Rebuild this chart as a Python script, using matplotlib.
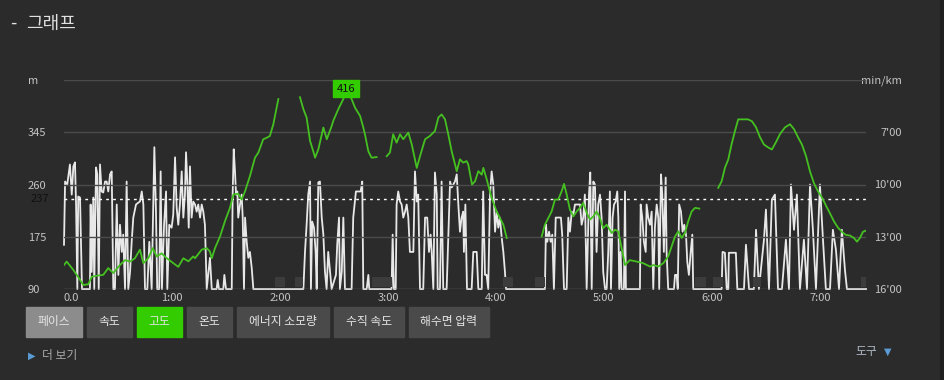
import matplotlib
matplotlib.use('Agg')
import matplotlib.pyplot as plt
import matplotlib.transforms as mtransforms
from matplotlib.patches import Rectangle

plt.rcParams['font.family'] = ['Noto Sans CJK KR', 'DejaVu Sans']

# elevation (minutes from start, metres) - one list per recorded stretch
elev_seg1 = [(0, 129), (1.5, 134.6), (5.2, 121), (8.9, 105), (10.7, 96.5), (13.5, 97.7), (15.4, 110),
             (19.1, 112), (21.8, 113), (24.6, 124), (27.4, 116), (31.1, 129), (33.9, 137), (36.7, 134.6),
             (39.4, 140), (42.2, 154), (44.1, 132), (46.8, 140), (49.3, 156.5), (51.5, 143), (54.3, 148),
             (57.1, 140), (60.7, 132), (63.5, 126), (66.3, 140), (69.1, 135), (71.8, 143), (72.8, 140),
             (76.5, 154), (79.3, 156.5), (81.1, 151), (82.1, 140), (83.9, 156.5), (86.7, 175.5), (89.4, 200),
             (92.2, 222), (94.1, 243.7), (96.8, 245), (98.7, 235.5), (100.6, 249), (103.3, 273.6),
             (106.1, 303.6), (108.0, 312), (110.7, 333.6), (112.6, 336), (114.4, 339), (116.3, 358), (119.1, 399)]
elev_seg2 = [(131.1, 402), (133.0, 382.6), (134.8, 369), (136.7, 331), (138.5, 314), (139.5, 303.6),
             (141.3, 317), (144.1, 352.7), (146.0, 333.6), (148.7, 355), (149.6, 363.5), (152.4, 382.6),
             (155.2, 399), (156.7, 416), (159.8, 399), (161.7, 385), (164.5, 371.6), (166.3, 352.7),
             (167.2, 341.7), (169.1, 314), (170.9, 303.6), (173.7, 304.6)]
elev_seg3 = [(179.3, 306), (181.1, 312), (182.9, 341.7), (184.8, 328), (186.7, 341.7), (188.5, 333.6),
             (191.3, 344.5), (193.2, 325.4), (196.0, 287), (197.8, 306), (200.6, 333.6), (203.3, 339),
             (206.1, 347), (208.0, 369), (209.8, 374), (211.7, 366), (213.5, 341.7), (215.4, 314),
             (218.2, 281.7), (220.0, 301), (221.8, 295.6), (223.7, 298), (224.6, 292.7), (226.7, 260),
             (228.4, 265.4), (230.2, 281.7), (232.1, 276), (233.0, 287), (234.9, 268), (237.6, 238),
             (240.4, 216), (242.2, 205.6), (244.1, 194.6), (246.0, 173)]
elev_seg4 = [(265.4, 175.5), (267.2, 194.6), (269.1, 205.6), (270.9, 216), (272.8, 235.5), (274.6, 235.5),
             (276.5, 249), (277.8, 261), (279.3, 243.7), (281.1, 219), (283.0, 208), (284.8, 216),
             (286.7, 222), (288.5, 230), (290.4, 214), (292.2, 203), (294.1, 208), (295.9, 216),
             (297.8, 205.6), (299.6, 189), (301.5, 194.6), (304.3, 181), (306.1, 186.5), (308.0, 183.7),
             (309.8, 156.5), (311.7, 129), (314.4, 137), (318.2, 134.6), (321.8, 132), (325.6, 126.5),
             (327.4, 129), (330.2, 126.5), (333.0, 132), (335.7, 143), (337.6, 159), (339.5, 175.5),
             (341.3, 183.7), (343.2, 173), (345.0, 181), (346.8, 200), (348.7, 216), (350.6, 222), (353.0, 220.8)]
elev_seg5 = [(363.5, 254.6), (365.4, 265.4), (367.2, 287), (369.1, 301), (370.9, 325.4), (372.8, 347),
             (374.6, 366), (376.7, 366), (380.0, 366), (382.2, 363), (384.5, 353), (386.7, 337),
             (388.9, 325), (391.1, 320.5), (393.3, 317), (395.6, 329), (397.8, 342), (400.6, 353),
             (403.4, 358), (405.6, 350), (407.8, 337), (410.0, 325), (412.3, 306), (414.5, 281),
             (416.7, 262), (418.9, 249), (421.1, 239), (423.3, 226), (425.6, 213), (427.8, 200),
             (430.0, 190), (432.2, 183), (434.4, 178), (436.7, 177), (438.9, 173), (440.6, 167),
             (442.2, 173), (443.9, 183), (445.6, 185)]

# pace (minutes from start, min/km); 16 = slower than the axis floor
pace_pts = [
    (0.0, 13.46), (0.6, 9.83), (1.8, 10.0), (3.3, 8.85), (4.3, 10.58), (5.2, 8.96), (6.1, 8.73), (6.7, 11.15),
    (7.4, 16), (7.9, 10.69), (8.9, 10.75), (9.4, 13.06), (10.0, 16), (14.4, 16), (14.8, 11.15), (15.4, 15.02),
    (16.3, 10.75), (16.8, 16), (17.8, 9.02), (18.5, 9.42), (19.3, 16), (20.0, 8.85), (20.9, 10.4), (21.8, 10.46),
    (22.8, 9.83), (23.7, 9.83), (24.6, 10.4), (25.6, 9.42), (26.5, 9.25), (27.4, 16), (28.3, 16), (29.3, 11.15),
    (30.2, 15.19), (31.1, 12.31), (32.1, 13.87), (32.9, 12.88), (33.9, 16), (34.8, 9.83), (35.7, 16),
    (36.7, 15.02), (37.6, 13.29), (38.5, 11.9), (40.0, 11.15), (41.3, 11.04), (42.2, 10.98), (43.2, 10.4),
    (44.1, 11.15), (45.0, 16), (46.3, 16), (47.4, 13.29), (48.7, 16), (50.2, 7.86), (51.1, 11.56), (51.8, 16),
    (52.9, 16), (53.7, 9.25), (54.4, 16), (55.6, 12.31), (56.7, 10.4), (57.4, 16), (58.5, 12.31), (59.8, 12.48),
    (60.7, 11.73), (61.7, 8.44), (62.6, 11.33), (63.5, 12.31), (64.4, 11.15), (65.4, 9.25), (66.3, 11.9),
    (67.2, 10.58), (67.8, 8.15), (68.5, 9.83), (69.3, 12.48), (70.0, 8.96), (70.9, 11.9), (71.8, 10.98),
    (72.8, 11.15), (73.7, 11.56), (74.6, 11.15), (75.6, 11.9), (76.5, 11.15), (77.4, 11.56), (78.3, 12.31),
    (79.3, 16), (81.1, 14.21), (82.1, 16), (84.8, 16), (85.4, 15.48), (86.1, 16), (88.5, 16), (89.1, 15.19),
    (90.0, 16), (93.2, 16), (93.7, 10.58), (94.3, 7.98), (95.0, 9.25), (95.6, 10.58), (96.3, 10.4), (96.8, 11.9),
    (97.8, 11.15), (98.7, 10.58), (99.3, 11.9), (100.0, 16), (100.6, 11.9), (101.5, 13.29), (102.4, 14.21),
    (103.3, 13.87), (104.3, 14.79), (105.2, 16),
    (133.0, 16), (133.9, 13.87), (134.8, 12.31), (135.7, 10.58), (136.7, 9.83), (137.2, 16), (137.9, 12.13),
    (138.9, 12.48), (139.8, 13.87), (140.4, 16), (141.3, 9.88), (142.2, 9.83), (143.2, 11.9), (144.1, 12.88),
    (145.0, 15.02), (145.9, 16), (146.8, 13.87), (147.8, 15.02), (148.7, 16), (151.1, 15.19), (151.8, 13.46),
    (152.8, 11.9), (153.3, 16), (154.3, 15.02), (155.2, 11.9), (156.1, 16), (159.8, 16), (160.7, 11.9),
    (162.2, 10.4), (163.5, 10.4), (164.8, 10.4), (165.7, 9.83), (166.3, 16), (168.2, 16), (169.1, 15.19),
    (169.6, 16),
    (182.0, 16), (182.6, 12.88), (183.3, 16), (184.3, 16), (184.8, 11.15), (185.7, 10.4), (186.7, 10.98),
    (187.6, 11.15), (188.5, 11.9), (189.5, 11.56), (190.4, 11.15), (191.3, 11.9), (192.2, 13.87), (194.1, 13.87),
    (195.0, 9.25), (196.0, 10.98), (196.8, 10.58), (197.8, 16), (199.6, 16), (200.6, 11.9), (201.8, 11.9),
    (202.8, 13.87), (203.7, 12.88), (204.3, 13.87), (205.2, 16), (206.1, 9.31), (207.1, 10.58), (207.6, 16),
    (208.9, 16), (209.8, 9.83), (210.7, 16), (212.6, 16), (214.5, 9.83), (215.4, 10.17), (216.3, 10.0),
    (217.2, 9.83), (218.2, 9.42), (219.1, 11.15), (220.0, 12.71), (220.9, 11.9), (221.8, 11.56), (222.2, 13.87),
    (223.0, 11.15), (223.9, 16), (226.5, 16), (227.4, 13.87), (229.3, 13.87), (230.2, 16), (232.1, 16),
    (232.9, 10.4), (233.9, 15.19), (234.8, 15.19), (235.7, 16), (236.7, 10.58), (237.6, 9.25), (238.5, 10.0),
    (239.5, 12.71), (240.4, 11.56), (241.3, 12.48), (242.2, 11.9), (243.2, 13.06), (244.1, 13.87),
    (245.0, 15.02), (245.6, 16),
    (267.2, 16), (267.8, 12.31), (268.5, 13.29), (269.5, 12.71), (270.4, 13.29), (271.3, 12.88), (272.2, 16),
    (273.2, 11.9), (274.6, 11.9), (276.1, 11.9), (276.8, 12.88), (277.8, 16), (279.3, 16), (280.2, 11.9),
    (281.1, 12.71), (282.1, 11.56), (283.0, 11.73), (283.9, 11.15), (286.7, 11.15), (287.6, 12.31),
    (288.5, 11.9), (289.4, 10.58), (290.4, 16), (291.7, 10.58), (292.4, 9.31), (293.2, 16), (294.1, 9.83),
    (295.0, 10.0), (295.9, 13.87), (296.8, 11.15), (297.8, 10.58), (298.7, 11.9), (299.6, 15.02), (300.6, 16),
    (301.5, 16), (302.4, 13.87), (303.3, 10.4), (303.9, 16), (304.8, 11.9), (305.6, 11.15), (306.5, 10.98),
    (307.4, 10.4), (308.0, 11.9), (308.5, 16), (309.3, 13.87), (309.8, 16), (311.1, 16), (311.7, 10.4),
    (312.2, 16),
    (320.0, 16), (320.4, 11.15), (321.3, 11.9), (322.2, 13.29), (323.2, 13.87), (323.7, 11.15), (324.6, 11.9),
    (325.6, 12.31), (326.5, 11.56), (327.4, 16), (328.3, 12.48), (329.3, 11.15), (330.2, 11.9), (330.7, 16),
    (331.7, 9.42), (332.4, 10.58), (333.3, 13.87), (334.3, 9.6), (334.8, 13.87), (335.7, 16), (338.9, 16),
    (339.5, 15.19), (340.4, 15.19), (341.0, 16), (341.8, 11.15), (342.8, 11.56), (343.7, 12.71), (344.6, 12.31),
    (345.6, 12.88), (346.3, 14.44), (347.2, 15.19), (348.2, 13.87), (349.1, 12.88), (349.6, 16),
    (365.4, 16), (365.9, 13.87), (367.2, 13.92), (368.2, 16), (369.1, 16), (369.4, 13.92), (373.3, 13.92),
    (374.1, 16), (377.8, 16), (378.9, 13.46), (380.6, 16), (383.3, 16), (384.5, 12.6), (386.1, 16),
    (388.9, 13.17), (390.0, 11.44), (391.7, 16), (393.3, 10.86), (395.0, 10.58), (396.7, 16), (398.9, 16),
    (401.1, 13.17), (402.8, 16), (403.9, 10.0), (405.6, 12.6), (407.2, 10.58), (408.9, 16), (411.1, 13.17),
    (412.8, 16), (414.5, 10.0), (416.1, 12.6), (417.8, 16), (420.0, 10.0), (421.7, 13.17), (423.3, 16),
    (425.6, 16), (427.2, 12.6), (428.9, 13.75), (430.6, 16), (432.2, 12.6), (433.9, 14.9), (435.0, 16),
    (445.6, 16)]

# pauses (start, end) in minutes
pauses = [(117.2, 122.8), (128.3, 132.9), (170.9, 182.1), (244.1, 249.6), (261.7, 267.2),
          (350.6, 356.7), (360.7, 366.3), (382.8, 387.2), (442.8, 446.0)]

total_minutes = 445.6
ref_elev = 237
peak = (156.7, 416)
elev_ticks = [90, 175, 260, 345, 430]
elev_labels = ['90', '175', '260', '345', 'm']
pace_ticks = [4, 7, 10, 13, 16]
pace_labels = ['min/km', "7'00", "10'00", "13'00", "16'00"]
time_ticks = [0, 60, 120, 180, 240, 300, 360, 420]
time_labels = ['0.0', '1:00', '2:00', '3:00', '4:00', '5:00', '6:00', '7:00']

buttons = ['페이스', '속도', '고도', '온도', '에너지 소모량', '수직 속도', '해수면 압력']
button_widths = [56, 45, 45, 45, 92, 70, 80]

BG = '#2b2b2b'
GREEN = '#44c020'
LABEL = '#c4c4c4'

nan = float('nan')
elev_t, elev_m = [], []
for seg in [elev_seg1, elev_seg2, elev_seg3, elev_seg4, elev_seg5]:
    elev_t += [p[0] for p in seg] + [nan]
    elev_m += [p[1] for p in seg] + [nan]
pace_t = [p[0] for p in pace_pts]
pace_v = [p[1] for p in pace_pts]

fig = plt.figure(figsize=(9.45, 3.8), dpi=100, facecolor=BG)

# pace axis (white line), elevation twin (green line)
ax = fig.add_axes([64 / 945, 91 / 380, 802 / 945, 209 / 380])
ax2 = ax.twinx()
ax.set_facecolor('none')
ax.set_xlim(0, total_minutes)
ax.set_ylim(16, 4)
ax2.set_ylim(90, 430)
for s in list(ax.spines.values()) + list(ax2.spines.values()):
    s.set_visible(False)

ax.plot(pace_t, pace_v, color='#e8e8e8', lw=1.3, clip_on=False, zorder=3)

for v in elev_ticks[1:]:
    ax2.axhline(v, color='#4b4b4b', lw=1, zorder=0)
ax2.axhline(90, color='#6a6a6a', lw=1, zorder=0)
ax2.axhline(ref_elev, color='white', lw=1, ls=(0, (2, 3)), zorder=2)
ax2.broken_barh([(a, b - a) for a, b in pauses], (93, 16), facecolor='#3c3c3c', zorder=1)
ax2.plot(elev_t, elev_m, color=GREEN, lw=1.3, zorder=4)
ax2.text(peak[0], peak[1], str(peak[1]), ha='center', va='center', fontsize=8, color='#111111', zorder=6,
         bbox=dict(boxstyle='square,pad=0.3', fc='#33cc00', ec='#33cc00'))
trans = mtransforms.blended_transform_factory(fig.transFigure, ax2.transData)
ax2.text(31 / 945, ref_elev, str(ref_elev), transform=trans, ha='left', va='center', fontsize=8, color='#111111')

# tick sides: pace on the right, elevation on the left
ax.yaxis.tick_right()
ax.yaxis.set_label_position('right')
ax2.yaxis.tick_left()
ax2.yaxis.set_label_position('left')

ax.set_yticks(pace_ticks)
ax.set_yticklabels(pace_labels)
ax.tick_params(axis='y', length=0, pad=26, labelsize=8, labelcolor=LABEL)
for lbl in ax.get_yticklabels():
    lbl.set_ha('right')

ax2.set_yticks(elev_ticks)
ax2.set_yticklabels(elev_labels)
ax2.tick_params(axis='y', length=0, pad=26, labelsize=8, labelcolor=LABEL)
for lbl in ax2.get_yticklabels():
    lbl.set_ha('left')

ax.set_xticks(time_ticks)
ax.set_xticklabels(time_labels)
ax.tick_params(axis='x', length=0, pad=3, labelsize=8, labelcolor=LABEL)
ax.get_xticklabels()[0].set_ha('left')

# page furniture in pixel coordinates
ov = fig.add_axes([0, 0, 1, 1])
ov.set_xlim(0, 945)
ov.set_ylim(380, 0)
ov.axis('off')
ov.patch.set_visible(False)
ov.add_patch(Rectangle((940, 0), 5, 380, color='#1f1f1f'))
ov.text(10, 24, '-', fontsize=13, color='#e0e0e0', va='center', ha='left')
ov.text(26, 24, '그래프', fontsize=13, color='#e0e0e0', va='center', ha='left')

x = 26
for i, (name, w) in enumerate(zip(buttons, button_widths)):
    fc = '#4a4a4a'
    if i == 0:
        fc = '#8c8c8c'
    if name == '고도':
        fc = '#33cc00'
    ov.add_patch(Rectangle((x, 307), w, 30, color=fc))
    ov.text(x + w / 2, 322, name, fontsize=8.5, color='#e6e6e6', ha='center', va='center')
    x += w + 5

ov.text(28, 356, '▶', fontsize=7, color='#5b9bd5', ha='left', va='center', family='DejaVu Sans')
ov.text(42, 356, '더 보기', fontsize=8.5, color='#aaaaaa', ha='left', va='center')
ov.text(855, 352, '도구', fontsize=8.5, color='#b0bcc8', ha='left', va='center')
ov.text(884, 352, '▼', fontsize=7, color='#5b9bd5', ha='left', va='center', family='DejaVu Sans')

fig.savefig('out.png', dpi=100, facecolor=BG)
